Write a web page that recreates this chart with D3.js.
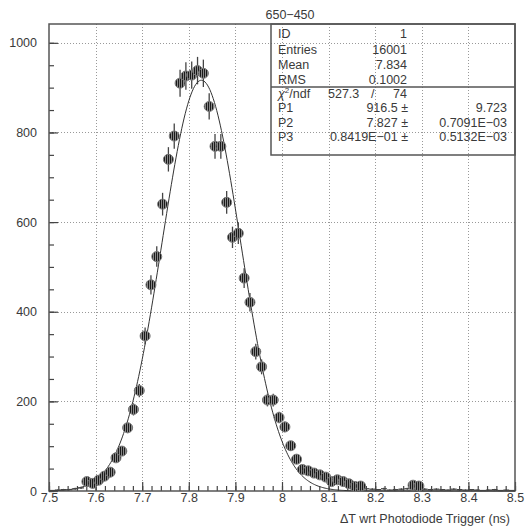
<!DOCTYPE html>
<html>
<head>
<meta charset="utf-8">
<script src="https://cdn.jsdelivr.net/npm/d3@7"></script>
<style>
  body { margin: 0; background: #fff; }
  svg text { font-family: "Liberation Sans", Arial, sans-serif; font-size: 12.5px; fill: #3a3a3a; }
</style>
</head>
<body>
<svg id="chart" width="528" height="528"></svg>
<script>
// histogram 650-450 : 80 bins from 7.5 to 8.5
const binLow = 7.5, binWidth = 0.0125;
const counts = [
  1, 2, 3, 3, 5, 7, 21, 17, 24, 33,
  42, 74, 89, 141, 182, 224, 346, 460, 523, 640,
  740, 792, 910, 926, 928, 938, 932, 858, 769, 769,
  644, 566, 575, 475, 421, 311, 277, 203, 203, 164,
  143, 101, 71, 48, 45, 40, 36, 31, 21, 25,
  21, 16, 10, 11, 5, 4, 3, 5, 2, 3,
  4, 5, 13, 11, 4, 3, 4, 3, 2, 4,
  3, 2, 3, 2, 1, 2, 3, 1, 2, 1
];

// gaussian fit P1 * exp(-0.5*((x-P2)/P3)^2)
const fitNames = ["P1", "P2", "P3"];
const fitValues = [916.5, 7.827, 0.08419];
const fitValueText = ["916.5 \u00b1", "7.827 \u00b1", "0.8419E\u221201 \u00b1"];
const fitErrorText = ["9.723", "0.7091E\u221203", "0.5132E\u221203"];

const statNames = ["ID", "Entries", "Mean", "RMS"];
const statValues = ["1", "16001", "7.834", "0.1002"];
const chi2 = ["527.3", "74"];

const xTicks = [7.5, 7.6, 7.7, 7.8, 7.9, 8.0, 8.1, 8.2, 8.3, 8.4, 8.5];
const yTicks = [0, 200, 400, 600, 800, 1000];

const title = "650\u2212450";
const xTitle = "\u0394T wrt Photodiode Trigger (ns)";

const pLeft = 49, pRight = 515, pTop = 24, pBottom = 491;

const svg = d3.select("#chart");

const x = d3.scaleLinear().domain([7.5, 8.5]).range([pLeft, pRight]);
const y = d3.scaleLinear().domain([0, 1042]).range([pBottom, pTop]);

// marker hatching
svg.append("defs").append("pattern")
  .attr("id", "hatch")
  .attr("patternUnits", "userSpaceOnUse")
  .attr("width", 2).attr("height", 2)
  .call(p => {
    p.append("rect").attr("width", 2).attr("height", 2).attr("fill", "#888");
    p.append("rect").attr("width", 1).attr("height", 2).attr("fill", "#1a1a1a");
  });

// grid
const grid = svg.append("g")
  .attr("stroke", "#999")
  .attr("stroke-width", 1)
  .attr("stroke-dasharray", "1,2");

grid.selectAll(".gx")
  .data(xTicks.slice(1, -1))
  .enter().append("line")
  .attr("x1", d => Math.round(x(d)) + 0.5).attr("x2", d => Math.round(x(d)) + 0.5)
  .attr("y1", pTop).attr("y2", pBottom);

grid.selectAll(".gy")
  .data(yTicks.slice(1))
  .enter().append("line")
  .attr("x1", pLeft).attr("x2", pRight)
  .attr("y1", d => Math.round(y(d)) + 0.5).attr("y2", d => Math.round(y(d)) + 0.5);

// axes, ticks pointing inwards
const minorX = d3.range(0, 51).map(i => 7.5 + i * 0.02);
const minorY = d3.range(0, 21).map(i => i * 50);

svg.append("g")
  .attr("transform", "translate(0," + pBottom + ")")
  .call(d3.axisBottom(x).tickValues(xTicks).tickSizeInner(-9).tickSizeOuter(0)
    .tickPadding(2).tickFormat(d => String(+d.toFixed(1))));
svg.append("g")
  .attr("transform", "translate(0," + pBottom + ")")
  .call(d3.axisBottom(x).tickValues(minorX).tickSizeInner(-5).tickSizeOuter(0).tickFormat(""));

svg.append("g")
  .attr("transform", "translate(" + pLeft + ",0)")
  .call(d3.axisLeft(y).tickValues(yTicks).tickSizeInner(-9).tickSizeOuter(0)
    .tickPadding(12).tickFormat(d3.format("d")));
svg.append("g")
  .attr("transform", "translate(" + pLeft + ",0)")
  .call(d3.axisLeft(y).tickValues(minorY).tickSizeInner(-5).tickSizeOuter(0).tickFormat(""));

svg.selectAll(".domain").remove();
svg.selectAll(".tick line").attr("stroke", "#444").attr("stroke-width", 1.2);
svg.selectAll(".tick text").attr("font-family", null).attr("font-size", null).attr("fill", null);

// frame
svg.append("rect")
  .attr("x", pLeft).attr("y", pTop)
  .attr("width", pRight - pLeft).attr("height", pBottom - pTop)
  .attr("fill", "none").attr("stroke", "#555").attr("stroke-width", 1.5);

// fit curve
const fit = xv => fitValues[0] * Math.exp(-0.5 * Math.pow((xv - fitValues[1]) / fitValues[2], 2));
const curveX = d3.range(0, 401).map(i => 7.5 + i * 0.0025);
svg.append("path")
  .datum(curveX)
  .attr("fill", "none")
  .attr("stroke", "#333")
  .attr("stroke-width", 1)
  .attr("d", d3.line().x(d => x(d)).y(d => y(fit(d))));

// histogram points with errors
const bins = counts.map((c, i) => ({ xc: binLow + binWidth * (i + 0.5), c: c }));

const errs = svg.append("g").attr("stroke", "#444").attr("stroke-width", 1.3);
errs.selectAll(".ev")
  .data(bins)
  .enter().append("line")
  .attr("x1", d => x(d.xc)).attr("x2", d => x(d.xc))
  .attr("y1", d => y(d.c - Math.sqrt(d.c))).attr("y2", d => y(d.c + Math.sqrt(d.c)));
errs.selectAll(".eh")
  .data(bins)
  .enter().append("line")
  .attr("x1", d => x(d.xc - binWidth / 2)).attr("x2", d => x(d.xc + binWidth / 2))
  .attr("y1", d => y(d.c)).attr("y2", d => y(d.c));

svg.append("g").selectAll("circle")
  .data(bins.filter(d => d.c >= 10))
  .enter().append("circle")
  .attr("cx", d => x(d.xc))
  .attr("cy", d => y(d.c))
  .attr("r", 5)
  .attr("fill", "url(#hatch)")
  .attr("stroke", "#777")
  .attr("stroke-width", 1);

// titles
svg.append("text")
  .attr("x", 290).attr("y", 19)
  .attr("text-anchor", "middle")
  .text(title);

svg.append("text")
  .attr("x", 510).attr("y", 523)
  .attr("text-anchor", "end")
  .text(xTitle);

// stats box
const box = svg.append("g");
box.append("rect")
  .attr("x", 271).attr("y", pTop)
  .attr("width", pRight - 271).attr("height", 155 - pTop)
  .attr("fill", "none").attr("stroke", "#555").attr("stroke-width", 1.5);
box.append("line")
  .attr("x1", 271).attr("x2", pRight).attr("y1", 87).attr("y2", 87)
  .attr("stroke", "#555").attr("stroke-width", 1.5);

const statY = [34, 49.5, 65, 80];
statNames.forEach((n, i) => {
  box.append("text").attr("x", 278).attr("y", statY[i]).attr("dy", "0.35em").text(n);
  box.append("text").attr("x", 407).attr("y", statY[i]).attr("dy", "0.35em")
    .attr("text-anchor", "end").text(statValues[i]);
});

const chiRow = box.append("text").attr("x", 278).attr("y", 94).attr("dy", "0.35em");
chiRow.append("tspan").attr("font-style", "italic").text("\u03c7");
chiRow.append("tspan").attr("font-size", "8px").attr("dy", "-5").text("2");
chiRow.append("tspan").attr("dy", "5").text("/ndf");
box.append("text").attr("x", 328).attr("y", 94).attr("dy", "0.35em").text(chi2[0]);
box.append("text").attr("x", 371).attr("y", 94).attr("dy", "0.35em").text("/");
box.append("text").attr("x", 407).attr("y", 94).attr("dy", "0.35em")
  .attr("text-anchor", "end").text(chi2[1]);

const fitY = [108, 122.5, 137];
fitNames.forEach((n, i) => {
  box.append("text").attr("x", 278).attr("y", fitY[i]).attr("dy", "0.35em").text(n);
  box.append("text").attr("x", 408).attr("y", fitY[i]).attr("dy", "0.35em")
    .attr("text-anchor", "end").text(fitValueText[i]);
  box.append("text").attr("x", 507).attr("y", fitY[i]).attr("dy", "0.35em")
    .attr("text-anchor", "end").text(fitErrorText[i]);
});
</script>
</body>
</html>
